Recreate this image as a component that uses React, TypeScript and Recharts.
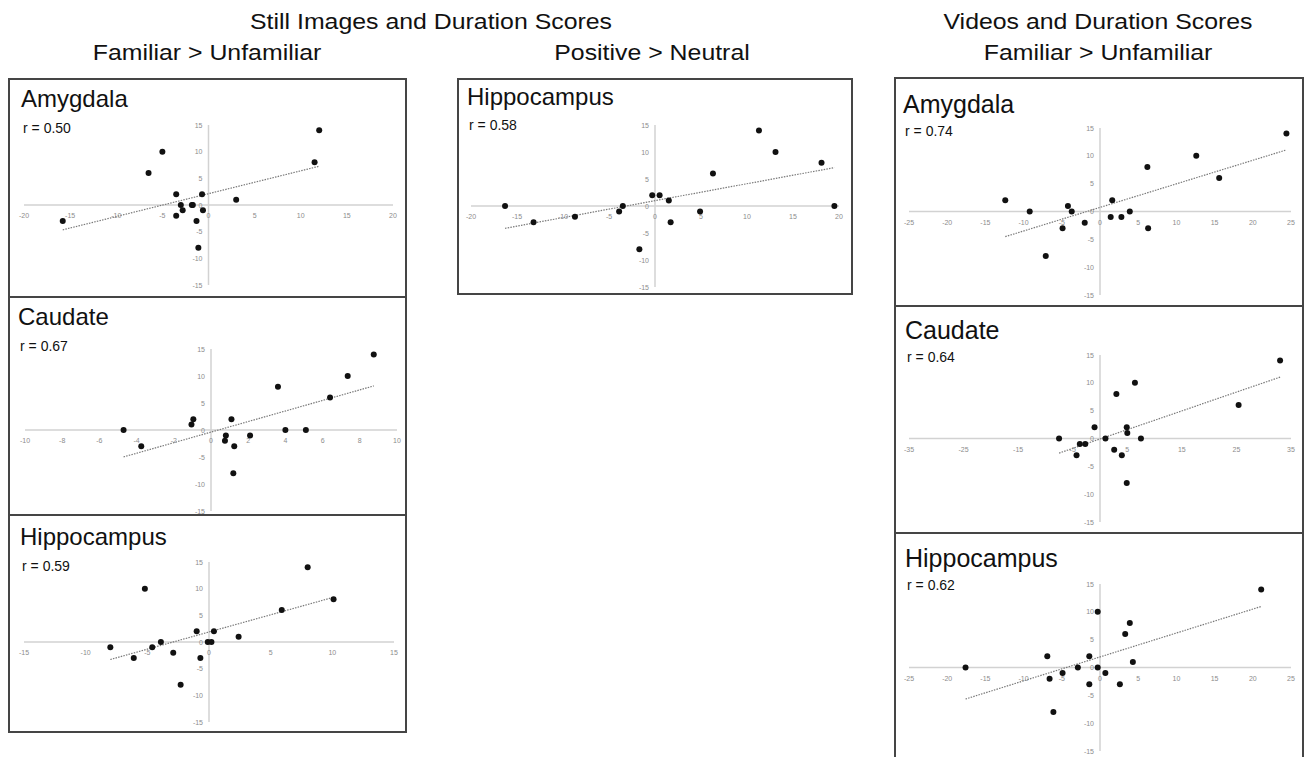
import { ReferenceLine, Scatter, ScatterChart, XAxis, YAxis } from 'recharts';

// values (x = activation difference, y = duration score difference)
const amygStillX = [-15.8, -6.5, -5, -3.5, -3.5, -3, -2.8, -1.8, -1.7, -1.3, -1.1, -0.7, -0.6, 3, 11.5, 12];
const amygStillY = [-3, 6, 10, 2, -2, 0, -1, 0, 0, -3, -8, 2, -1, 1, 8, 14];

const caudStillX = [-4.7, -3.75, -1.05, -0.95, 0.8, 0.75, 1.1, 1.25, 1.2, 2.1, 3.6, 4, 5.1, 6.4, 7.35, 8.75];
const caudStillY = [0, -3, 1, 2, -1, -2, 2, -3, -8, -1, 8, 0, 0, 6, 10, 14];

const hippStillX = [-8, -6.1, -5.2, -4.6, -3.9, -2.9, -2.3, -1, -0.7, -0.1, 0.2, 0.4, 2.4, 5.9, 8, 10.1];
const hippStillY = [-1, -3, 10, -1, 0, -2, -8, 2, -3, 0, 0, 2, 1, 6, 14, 8];

const hippPosX = [-16.3, -13.2, -8.7, -3.9, -3.5, -1.7, -0.3, 0.5, 1.5, 1.7, 4.9, 6.3, 11.3, 13.1, 18.1, 19.5];
const hippPosY = [0, -3, -2, -1, 0, -8, 2, 2, 1, -3, -1, 6, 14, 10, 8, 0];

const amygVidX = [-12.4, -9.2, -7.1, -4.9, -4.2, -3.7, -2, 1.4, 1.6, 2.8, 3.9, 6.2, 6.3, 12.6, 15.6, 24.4];
const amygVidY = [2, 0, -8, -3, 1, 0, -2, -1, 2, -1, 0, 8, -3, 10, 6, 14];

const caudVidX = [-7.5, -4.3, -3.7, -2.7, -1, 1, 2.6, 3, 4, 4.9, 5, 4.9, 6.4, 7.5, 25.4, 33];
const caudVidY = [0, -3, -1, -1, 2, 0, -2, 8, -3, 2, 1, -8, 10, 0, 6, 14];

const hippVidX = [-17.6, -6.9, -6.6, -6.1, -4.9, -2.9, -1.4, -1.4, -0.3, -0.3, 0.7, 2.6, 3.3, 3.9, 4.3, 21.1];
const hippVidY = [0, 2, -2, -8, -1, 0, 2, -3, 10, 0, -1, -3, 6, 8, 1, 14];

const rValues = ['0.50', '0.67', '0.59', '0.58', '0.74', '0.64', '0.62'];

const yTicks = [-15, -10, -5, 0, 5, 10, 15];
const xTicks20 = [-20, -15, -10, -5, 0, 5, 10, 15, 20];
const xTicks10 = [-10, -8, -6, -4, -2, 0, 2, 4, 6, 8, 10];
const xTicks15 = [-15, -10, -5, 0, 5, 10, 15];
const xTicks25 = [-25, -20, -15, -10, -5, 0, 5, 10, 15, 20, 25];
const xTicks35 = [-35, -25, -15, -5, 5, 15, 25, 35];

const headers = ['Still Images and Duration Scores', 'Videos and Duration Scores'];
const contrasts = ['Familiar > Unfamiliar', 'Positive > Neutral'];

// least squares trendline, drawn from the smallest to the largest x
const trendline = (xs: number[], ys: number[]) => {
  const n = xs.length;
  const mx = xs.reduce((s, v) => s + v, 0) / n;
  const my = ys.reduce((s, v) => s + v, 0) / n;
  let sxy = 0;
  let sxx = 0;
  xs.forEach((x, i) => {
    sxy += (x - mx) * (ys[i] - my);
    sxx += (x - mx) * (x - mx);
  });
  const b = sxy / sxx;
  const a = my - b * mx;
  const lo = Math.min(...xs);
  const hi = Math.max(...xs);
  return [
    { x: lo, y: a + b * lo },
    { x: hi, y: a + b * hi },
  ];
};

const TICK_COLOR = '#8c8c8c';

const xTickShape = (props: any) => (
  <text x={props.cx} y={props.cy + 13} textAnchor="middle" fontSize={7} fill={TICK_COLOR}>
    {props.payload.label}
  </text>
);

const yTickShape = (props: any) => (
  <text x={props.cx - 6} y={props.cy + 2.5} textAnchor="end" fontSize={7} fill={TICK_COLOR}>
    {props.payload.label}
  </text>
);

const dotShape = (props: any) => <circle cx={props.cx} cy={props.cy} r={3} fill="#111" />;

// the header lettering in the figure is a little wider than plain Arial
const Heading = ({ x, y, children }: { x: number; y: number; children: string }) => (
  <text transform={`translate(${x},${y}) scale(1.13,1)`} textAnchor="middle" fontSize={22} fill="#111">
    {children}
  </text>
);

type PanelProps = {
  left: number;
  top: number;
  width: number;
  height: number;
  title: string;
  r: string;
  titleX: number;
  titleY: number;
  titleSize: number;
  rY: number;
  margin: { top: number; right: number; bottom: number; left: number };
  xDomain: [number, number];
  xTicks: number[];
  xs: number[];
  ys: number[];
};

const Panel = ({ left, top, width, height, title, r, titleX, titleY, titleSize, rY, margin, xDomain, xTicks, xs, ys }: PanelProps) => {
  const points = xs.map((x, i) => ({ x, y: ys[i] }));
  const xTickData = xTicks.map((t) => ({ x: t, y: 0, label: t }));
  const yTickData = yTicks.map((t) => ({ x: 0, y: t, label: t }));
  const trend = trendline(xs, ys);

  return (
    <div
      style={{
        position: 'absolute',
        left,
        top,
        width,
        height,
        border: '2px solid #454545',
        boxSizing: 'border-box',
        background: '#fff',
      }}
    >
      <div style={{ position: 'absolute', left: -2, top: -2 }}>
        <ScatterChart width={width} height={height} margin={margin}>
          <XAxis type="number" dataKey="x" domain={xDomain} hide />
          <YAxis type="number" dataKey="y" domain={[-15, 15]} hide />
          <ReferenceLine y={0} stroke="#d2d2d2" strokeWidth={1.5} />
          <ReferenceLine x={0} stroke="#d2d2d2" strokeWidth={1.5} />
          <ReferenceLine segment={trend} stroke="#7a7a7a" strokeWidth={1.2} strokeDasharray="1.5 1.2" />
          <Scatter data={xTickData} shape={xTickShape} isAnimationActive={false} />
          <Scatter data={yTickData} shape={yTickShape} isAnimationActive={false} />
          <Scatter data={points} shape={dotShape} isAnimationActive={false} />
        </ScatterChart>
      </div>
      <svg
        width={width}
        height={height}
        style={{ position: 'absolute', left: -2, top: -2, overflow: 'visible', pointerEvents: 'none' }}
      >
        <text x={titleX} y={titleY} fontSize={titleSize} fill="#111">
          {title}
        </text>
        <text x={titleX + 2} y={rY} fontSize={14} fill="#111">
          r = {r}
        </text>
      </svg>
    </div>
  );
};

const App = () => (
  <div
    style={{
      position: 'fixed',
      left: 0,
      top: 0,
      width: 1305,
      height: 757,
      overflow: 'hidden',
      background: '#fff',
      fontFamily: '"Liberation Sans", Arial, sans-serif',
    }}
  >
    <svg width={1305} height={80} style={{ position: 'absolute', left: 0, top: 0 }}>
      <Heading x={431} y={29}>{headers[0]}</Heading>
      <Heading x={207} y={60}>{contrasts[0]}</Heading>
      <Heading x={652} y={60}>{contrasts[1]}</Heading>
      <Heading x={1098} y={29}>{headers[1]}</Heading>
      <Heading x={1098} y={60}>{contrasts[0]}</Heading>
    </svg>

    {/* still images, familiar > unfamiliar */}
    <Panel left={8} top={78} width={399} height={220} title="Amygdala" r={rValues[0]} titleX={13} titleY={29} titleSize={24} rY={55}
      margin={{ top: 47, right: 14, bottom: 13, left: 16 }} xDomain={[-20, 20]} xTicks={xTicks20} xs={amygStillX} ys={amygStillY} />
    <Panel left={8} top={296} width={399} height={220} title="Caudate" r={rValues[1]} titleX={10} titleY={29} titleSize={24} rY={55}
      margin={{ top: 53, right: 10, bottom: 5, left: 17 }} xDomain={[-10, 10]} xTicks={xTicks10} xs={caudStillX} ys={caudStillY} />
    <Panel left={8} top={514} width={399} height={219} title="Hippocampus" r={rValues[2]} titleX={12} titleY={31} titleSize={24} rY={57}
      margin={{ top: 48, right: 13, bottom: 11, left: 16 }} xDomain={[-15, 15]} xTicks={xTicks15} xs={hippStillX} ys={hippStillY} />

    {/* still images, positive > neutral */}
    <Panel left={457} top={78} width={396} height={217} title="Hippocampus" r={rValues[3]} titleX={10} titleY={27} titleSize={24} rY={52}
      margin={{ top: 47, right: 14, bottom: 8, left: 14 }} xDomain={[-20, 20]} xTicks={xTicks20} xs={hippPosX} ys={hippPosY} />

    {/* videos, familiar > unfamiliar */}
    <Panel left={894} top={77} width={410} height={230} title="Amygdala" r={rValues[4]} titleX={9} titleY={36} titleSize={25} rY={59}
      margin={{ top: 51, right: 13, bottom: 12, left: 15 }} xDomain={[-25, 25]} xTicks={xTicks25} xs={amygVidX} ys={amygVidY} />
    <Panel left={894} top={305} width={410} height={229} title="Caudate" r={rValues[5]} titleX={11} titleY={34} titleSize={25} rY={57}
      margin={{ top: 50, right: 13, bottom: 12, left: 15 }} xDomain={[-35, 35]} xTicks={xTicks35} xs={caudVidX} ys={caudVidY} />
    <Panel left={894} top={532} width={410} height={240} title="Hippocampus" r={rValues[6]} titleX={11} titleY={35} titleSize={25} rY={58}
      margin={{ top: 52, right: 13, bottom: 21, left: 15 }} xDomain={[-25, 25]} xTicks={xTicks25} xs={hippVidX} ys={hippVidY} />
  </div>
);

export default App;
